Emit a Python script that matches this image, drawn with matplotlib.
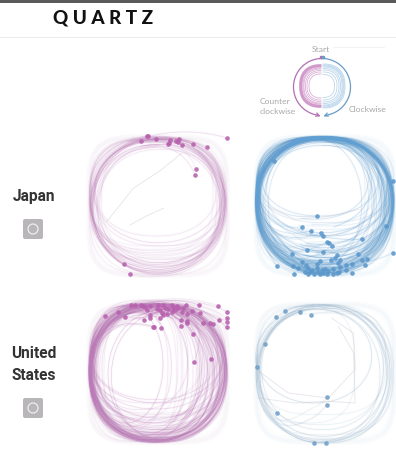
import numpy as np
import matplotlib
matplotlib.use("Agg")
import matplotlib.pyplot as plt
from matplotlib.patches import FancyBboxPatch, Circle

W, H = 396, 450
PINK = "#b860ae"
PINK_LINE = "#bd7ab9"
BLUE = "#5a97cb"
BLUE_LINE = "#5f9fd2"
BLUE_PALE = "#8fb0cb"

rows = ["Japan", "United\nStates"]

# Where each doodle starts (marked with a dot)
jp_pink_dots = [(682,39),(445,33),(423,47),(468,43),(508,55),(510,45),(527,48),(537,42),(546,61),
                (579,57),(620,66),(587,131),(585,151),(373,416),(389,448),(505,57),(440,34),(533,50)]
jp_blue_dots = [(101,108),(458,169),(230,274),(187,306),(213,318),(243,323),(248,333),(262,350),(268,354),
                (275,362),(365,342),(438,302),(458,384),(200,375),(155,386),(250,381),(353,386),(380,401),
                (367,406),(374,420),(111,422),(292,390),(285,398),(272,404),(240,408),(230,416),(185,412),
                (197,420),(160,423),(175,430),(205,430),(215,436),(195,440),(163,448),(205,448),(222,448),
                (235,440),(245,435),(255,432),(265,438),(280,432),(295,415),(300,425),(298,440),(280,448),
                (262,448),(318,420),(335,418),(318,436),(335,445),(240,448),(250,445),(300,405),(230,430),
                (210,442),(290,445)]
us_pink_dots = [(392,30),(405,30),(422,30),(430,33),(450,32),(475,30),(490,30),(515,30),(530,32),(558,30),
                (597,30),(654,32),(682,50),(682,70),(682,80),(681,97),(657,75),(640,86),(630,85),(608,85),
                (578,118),(632,191),(582,201),(483,100),(460,97),(463,95),(433,75),(375,67),(316,64),(354,50),
                (450,60),(450,68),(480,68),(490,60),(500,58),(485,55),(480,45),(505,42),(520,38),(535,40),
                (550,38),(545,50),(560,58),(575,48),(600,55),(542,75),(560,78),(562,85),(542,92),(515,50),
                (525,45),(495,40),(470,42),(440,45),(435,35)]
us_blue_dots = [(135,47),(108,67),(181,50),(213,59),(76,148),(50,215),(262,307),(260,330),(111,355),
                (221,443),(258,443)]

# Bounding boxes (left, top, right, bottom) of each doodle's loop, panel units 0-420
jp_pink_rings = [(8,8,412,395),(10,5,405,360),(12,10,400,410),(6,6,395,330),(8,3,408,380),(15,8,410,415),
                 (5,10,415,345),(20,5,395,400),(6,4,400,370),(12,6,412,405),(18,12,404,320),(5,8,390,350),
                 (25,20,412,390),(8,6,405,375),(30,40,408,410),(14,10,398,412),(5,5,410,355),(10,14,402,385),
                 (3,2,418,418),(22,18,385,300),(6,25,415,400),(40,10,410,370),(12,35,395,405),(9,12,375,340),
                 (16,6,416,408),(28,30,400,380),(7,15,385,415),(35,25,405,392),(4,9,408,365),(20,14,412,330)]
jp_blue_rings = [(4,5,380,300),(6,3,412,345),(10,8,340,250),(3,6,405,370),(8,2,395,400),(12,10,415,385),
                 (5,4,360,330),(2,8,410,405),(15,3,400,360),(7,12,390,410),(4,2,350,280),(9,6,414,395),
                 (3,5,415,375),(6,9,375,350),(11,4,405,412),(2,3,395,325),(18,7,412,390),(5,14,385,408),
                 (8,3,345,300),(3,10,408,380),(13,2,415,400),(6,5,370,265),(2,6,400,355),(10,4,412,410),
                 (4,18,390,385),(16,8,405,345),(7,2,360,400),(3,3,414,415),(12,6,380,372),(5,11,410,392),
                 (9,2,398,290),(2,7,415,405),(6,4,340,360),(14,12,402,412),(4,3,388,380),(8,8,412,335),
                 (3,2,372,395),(11,5,416,408),(5,9,395,270),(7,3,408,385),(2,12,380,402),(10,2,414,350),
                 (6,6,365,412),(4,4,405,318),(13,3,392,398),(3,7,415,375),(8,10,350,390),(5,2,410,410),
                 (2,5,398,340),(9,4,378,405),(6,15,412,365),(12,2,402,395),(3,9,415,410),(7,5,385,300),
                 (4,6,408,388),(15,3,395,412),
                 (2,2,418,418),(20,14,370,240),(5,20,414,400),(30,6,410,395),(3,28,402,380),(8,2,416,260),
                 (25,10,390,405),(6,3,330,345),(40,8,412,410),(4,12,355,375),(10,6,418,385),(16,4,405,350),
                 (2,10,385,412),(35,20,400,300),(7,7,418,365),(22,3,412,410),(3,4,320,400),(12,16,408,280)]
us_pink_rings = [(6,8,410,410),(10,4,380,395),(4,6,340,405),(14,10,400,380),(8,3,415,415),(18,6,360,360),
                 (5,12,395,412),(12,5,300,400),(3,9,412,340),(20,4,375,415),(7,7,405,390),(9,3,335,372),
                 (4,5,414,405),(16,8,390,418),(6,14,368,350),(11,4,410,410),(25,10,355,402),(5,3,400,318),
                 (8,6,280,385),(13,5,416,412),(3,16,385,395),(10,9,345,410),(22,3,408,375),(6,4,265,415),
                 (15,12,398,405),(4,7,412,360),(9,2,325,398),(18,18,378,412),(7,5,405,330),(12,8,415,415),
                 (3,4,350,388),(28,6,395,408),(6,11,250,370),(10,3,410,395),(5,20,372,418),(14,5,402,345),
                 (8,9,315,412),(4,3,416,380),(20,7,388,402),(11,14,360,415),(6,4,408,300),(16,2,340,390),
                 (3,8,398,412),(9,6,285,405),(24,4,414,368),(7,12,380,418),(12,3,405,388),(5,10,330,410),
                 (18,5,412,335),(4,6,365,398),(10,15,395,415),(6,2,240,380),(14,8,410,405),(8,4,375,352),
                 (3,12,418,412),
                 (2,3,418,418),(35,8,400,410),(5,30,412,395),(48,14,385,402),(10,2,300,320),(4,22,360,416),
                 (30,3,415,380),(8,40,402,410),(15,6,270,345),(6,18,418,418),(60,20,395,408),(3,5,345,300),
                 (20,10,416,415),(12,28,375,405),(42,5,410,390),(5,8,225,360),(25,15,405,418),(9,4,390,290),
                 (6,35,412,402),(18,3,335,410),(70,25,408,415),(4,10,300,395)]
us_blue_rings = [(10,12,398,400),(5,6,385,365),(14,4,405,415),(8,8,392,335),(3,14,410,408),(6,18,350,300),
                 (12,10,400,420),(4,20,375,415),(9,30,412,395),(15,5,405,420),(7,8,395,418),
                 (3,4,416,410),(20,15,385,380),(6,10,300,360)]

# Pale, nearly square sketches behind the loops
halo_boxes = [(2,2,418,418),(0,6,416,414),(6,0,420,420),(10,10,410,408)]

# Short stray strokes (x, y lists in panel units)
jp_pink_stray_a = [(281,52),(215,105),(136,157),(56,257)]
jp_pink_stray_b = [(226,217),(175,240),(126,267)]
jp_blue_stray_a = [(35,210),(120,250),(230,240),(310,220)]
us_blue_stray_a = [(5,200),(100,270),(220,285),(300,200),(295,90),(230,45)]
us_blue_stray_b = [(10,285),(120,300),(220,295),(300,300),(296,150),(250,70)]

legend_radii_pink = [21.5, 21, 20.5, 20, 19.5, 19, 18, 17, 15.5, 14, 12]
legend_radii_blue = [22, 21, 20, 19, 17.5, 16, 14, 11.5]


def squircle(box, n, start, turns, direction):
    """Outline of a loop in a box; start in radians, direction +1/-1."""
    l, t, r, b = box
    cx, cy, rx, ry = (l + r) / 2, (t + b) / 2, (r - l) / 2, (b - t) / 2
    a = start + direction * np.linspace(0, 2 * np.pi * turns, 240)
    c, s = np.cos(a), np.sin(a)
    return (cx + rx * np.sign(c) * np.abs(c) ** (2 / n),
            cy + ry * np.sign(s) * np.abs(s) ** (2 / n))


fig = plt.figure(figsize=(W / 100, H / 100), dpi=100, facecolor="white")
plt.rcParams["font.family"] = ["Roboto", "DejaVu Sans"]

deco = fig.add_axes([0, 0, 1, 1])
deco.set_xlim(0, W)
deco.set_ylim(H, 0)
deco.axis("off")

deco.fill_between([0, W], 0, 2.5, color="#5a5a5a", lw=0)
deco.plot([0, W], [36.5, 36.5], color="#ececec", lw=0.8)
deco.text(103, 17.5, "Q U A R T Z", family="Lato", weight="black", fontsize=13.6, color="#111111",
          ha="center", va="center")

label_size = 11.2
deco.text(34, 197, rows[0], weight="bold", fontsize=label_size, color="#333333", ha="center", va="center")
deco.text(34, 354, rows[1].split("\n")[0], weight="bold", fontsize=label_size, color="#333333", ha="center", va="center")
deco.text(34, 375, rows[1].split("\n")[1], weight="bold", fontsize=label_size, color="#333333", ha="center", va="center")
for top in (219, 398):
    deco.add_patch(FancyBboxPatch((24, top + 1), 18, 18, boxstyle="round,pad=1,rounding_size=2",
                                  fc="#b8b6b9", ec="none"))
    deco.add_patch(Circle((33, top + 10), 5, fc="none", ec="#eeeeee", lw=0.9))

# Legend
cx0, cy0 = 322, 86
deco.plot([333, 384], [47, 47], color="#f2f2f2", lw=0.7)
for r in legend_radii_pink:
    x, y = squircle((-r, -r, r, r), 2.4, -np.pi / 2, 0.5, -1)
    deco.plot(cx0 - 1 + np.minimum(x, 0), cy0 + y, color=PINK, lw=0.6, alpha=0.5)
for r in legend_radii_blue:
    x, y = squircle((-r, -r, r, r), 2.4, -np.pi / 2, 0.5, 1)
    deco.plot(cx0 + 1 + np.maximum(x, 0), cy0 + y, color=BLUE_LINE, lw=0.6, alpha=0.42)
for sign, col, end in ((-1, "#b26fb0", 1.44), (1, "#6a9cc8", 1.44)):
    a = np.linspace(0, end * np.pi / 2 * 1.32, 60)
    ax_x = cx0 + sign * 28.5 * np.sin(a)
    ax_y = cy0 + 1 - 28.5 * np.cos(a)
    deco.plot(ax_x, ax_y, color=col, lw=0.9)
    deco.annotate("", xy=(ax_x[-1] - sign * 3, ax_y[-1] + 1.2), xytext=(ax_x[-1], ax_y[-1]),
                  arrowprops=dict(arrowstyle="->", color=col, lw=0.9, mutation_scale=6,
                                  shrinkA=0, shrinkB=0))
    deco.plot([cx0 + sign * 1.2], [57], marker="o", ms=1.6, color=col)

legend_font = dict(family="Lato", fontsize=6.1, color="#a8a8a8")
deco.text(321, 50, "Start", ha="center", va="center", **legend_font)
deco.text(260, 102, "Counter", ha="left", va="center", **legend_font)
deco.text(260, 111.5, "clockwise", ha="left", va="center", **legend_font)
deco.text(349, 109, "Clockwise", ha="left", va="center", **legend_font)


def panel(left, top, ox, oy, dots, rings, colour, dot_colour, direction, alpha, strays=()):
    ax = fig.add_axes([left / W, 1 - (top + 140) / H, 140 / W, 140 / H])
    ax.set_xlim(0, 420)
    ax.set_ylim(420, 0)
    ax.axis("off")
    ax.patch.set_alpha(0)
    for box in halo_boxes:
        x, y = squircle(box, 4.5, 0, 1, 1)
        ax.plot(x, y, color=colour, lw=3.0, alpha=0.018, solid_capstyle="round", clip_on=False)
    shapes = (2.05, 2.4, 2.15, 2.9, 2.25)
    weights = (1.0, 0.55, 0.8, 0.45, 0.7)
    for i, box in enumerate(rings):
        n = shapes[i % len(shapes)]
        a_i = alpha * weights[i % len(weights)]
        l, t, r, b = box
        if i < len(dots):
            px, py = dots[i][0] - ox, dots[i][1] - oy
        else:
            px, py = (l + r) / 2, t
        start = np.arctan2((py - (t + b) / 2) / ((b - t) / 2), (px - (l + r) / 2) / ((r - l) / 2))
        x, y = squircle(box, n, start, 1.04, direction)
        w = np.clip(np.linspace(1, -3, x.size), 0, 1) ** 2
        x = x + (px - x[0]) * w
        y = y + (py - y[0]) * w
        ax.plot(x, y, color=colour, lw=2.0, alpha=a_i * 0.12, clip_on=False)
        ax.plot(x, y, color=colour, lw=0.45, alpha=a_i, clip_on=False)
    for s in strays:
        xs, ys = zip(*s)
        ax.plot(xs, ys, color="#c8c4d0", lw=0.7, alpha=0.4, clip_on=False)
    xs = [d[0] - ox for d in dots]
    ys = [d[1] - oy for d in dots]
    ax.scatter(xs, ys, s=11, color=dot_colour, alpha=0.88, linewidths=0, zorder=5, clip_on=False)


panel(88, 136, 264, 33, jp_pink_dots, jp_pink_rings, PINK_LINE, PINK, -1, 0.27,
      (jp_pink_stray_a, jp_pink_stray_b))
panel(255, 136, 45, 33, jp_blue_dots, jp_blue_rings, BLUE_LINE, BLUE, 1, 0.36, (jp_blue_stray_a,))
panel(88, 303, 264, 24, us_pink_dots, us_pink_rings, PINK_LINE, PINK, -1, 0.33)
panel(255, 303, 45, 24, us_blue_dots, us_blue_rings, BLUE_PALE, "#6f9fc8", 1, 0.36,
      (us_blue_stray_a, us_blue_stray_b))

fig.savefig("out.png", dpi=100, facecolor="white")
